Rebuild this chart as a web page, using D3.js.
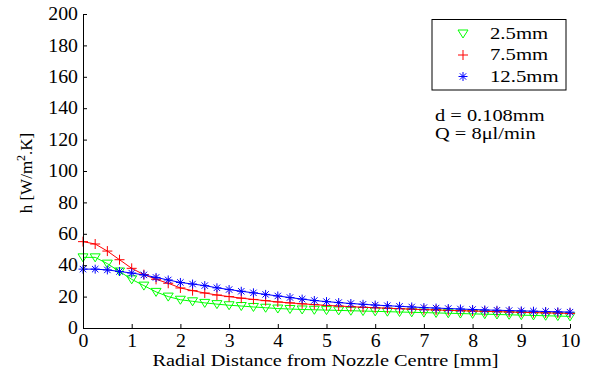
<!DOCTYPE html>
<html>
<head>
<meta charset="utf-8">
<script src="https://cdn.jsdelivr.net/npm/d3@7"></script>
<style>
  body { margin: 0; background: #fff; }
</style>
</head>
<body>
<div id="chart"></div>
<script>
// Canvas
const width = 591;
const height = 376;
const margin = { top: 14, right: 21, bottom: 48, left: 83 };
const innerW = width - margin.left - margin.right;
const innerH = height - margin.top - margin.bottom;
const serif = "Liberation Serif";

// Data: radial positions (mm) and h values for each nozzle height
const radial = d3.range(0, 41).map(i => i * 0.25);
const h25 = [45, 45, 41, 36, 31, 27, 23, 20, 18, 17, 16, 15.2, 14.5, 14, 13.4, 12.9, 12.4, 12.1, 11.8, 11.6,
             11.4, 11.2, 11, 10.8, 10.6, 10.4, 10.2, 10, 9.8, 9.6, 9.4, 9.2, 9, 8.8, 8.6, 8.4, 8.2, 8, 7.8, 7.6, 7.4];
const h75 = [55, 53.5, 49, 43.5, 38, 34, 31, 28.5, 25.5, 23.8, 22.3, 21, 20, 19, 18.2, 17.4, 16.6, 16, 15.4, 14.9,
             14.4, 14, 13.6, 13.2, 12.9, 12.6, 12.3, 12, 11.7, 11.5, 11.2, 11, 10.8, 10.6, 10.4, 10.2, 10, 9.8, 9.6, 9.5, 9.3];
const h125 = [37.5, 37.5, 37, 36, 35, 33.8, 32.2, 30.6, 29, 28, 27, 25.6, 24.5, 23.4, 22.4, 21.4, 20.4, 19.4, 18.4, 17.5,
              16.8, 16.2, 15.6, 15.1, 14.6, 14.2, 13.8, 13.4, 13, 12.7, 12.4, 12.1, 11.8, 11.5, 11.3, 11.1, 10.9, 10.7, 10.5, 10.3, 10.1];
const seriesNames = ["2.5mm", "7.5mm", "12.5mm"];
const xTicks = d3.range(0, 11);
const yTicks = d3.range(0, 201, 20);

const series = [
  { name: seriesNames[0], values: h25, color: "#00ff00", marker: "tri" },
  { name: seriesNames[1], values: h75, color: "#ff0000", marker: "plus" },
  { name: seriesNames[2], values: h125, color: "#0000ff", marker: "star" }
];

const svg = d3.select("#chart")
  .append("svg")
  .attr("width", width)
  .attr("height", height);

const g = svg.append("g").attr("transform", `translate(${margin.left},${margin.top})`);

const x = d3.scaleLinear().domain([0, 10]).range([0, innerW]);
const y = d3.scaleLinear().domain([0, 200]).range([innerH, 0]);

// The original figure is a little wider than tall fonts, so widen text a bit
function stretch(sel, k) {
  sel.each(function () {
    const w = this.getComputedTextLength();
    d3.select(this).attr("textLength", w * k).attr("lengthAdjust", "spacingAndGlyphs");
  });
}

// Marker path generators
function markerPath(type) {
  if (type === "tri") return "M-5,-3.5L5,-3.5L0,4.5Z";
  if (type === "plus") return "M-5,0L5,0M0,-5L0,5";
  return "M-4.5,0L4.5,0M0,-4.5L0,4.5M-3.2,-3.2L3.2,3.2M-3.2,3.2L3.2,-3.2";
}

const line = d3.line().x((d, i) => x(radial[i])).y(d => y(d));

series.forEach(s => {
  g.append("path")
    .datum(s.values)
    .attr("fill", "none")
    .attr("stroke", s.color)
    .attr("stroke-width", 1)
    .attr("d", line);

  g.selectAll(null)
    .data(s.values)
    .enter()
    .append("path")
    .attr("transform", (d, i) => `translate(${x(radial[i])},${y(d)})`)
    .attr("d", markerPath(s.marker))
    .attr("fill", "none")
    .attr("stroke", s.color)
    .attr("stroke-width", 1);
});

// Axes (ticks point inward)
const xAxis = g.append("g")
  .attr("transform", `translate(0,${innerH})`)
  .call(d3.axisBottom(x).tickValues(xTicks).tickSizeInner(-4).tickSizeOuter(0).tickPadding(4));
const yAxis = g.append("g")
  .call(d3.axisLeft(y).tickValues(yTicks).tickSizeInner(-4).tickSizeOuter(0).tickPadding(5));

[xAxis, yAxis].forEach(a => {
  a.select(".domain").attr("stroke", "#000");
  a.selectAll(".tick line").attr("stroke", "#000");
  a.selectAll(".tick text")
    .attr("fill", "#000")
    .style("font-family", serif)
    .style("font-size", "18px")
    .call(stretch, 1.1);
});
xAxis.selectAll(".tick text").attr("dy", "0.85em");

// Axis titles
g.append("text")
  .attr("x", innerW / 2 - 1)
  .attr("y", innerH + 38)
  .attr("text-anchor", "middle")
  .style("font-family", serif)
  .style("font-size", "17px")
  .attr("textLength", 346)
  .attr("lengthAdjust", "spacingAndGlyphs")
  .text("Radial Distance from Nozzle Centre [mm]");

const yLab = g.append("text")
  .attr("transform", `translate(-51,${173 - margin.top}) rotate(-90)`)
  .attr("text-anchor", "middle")
  .style("font-family", serif)
  .style("font-size", "17px");
yLab.append("tspan").text("h [W/m");
yLab.append("tspan").attr("dy", -7).style("font-size", "12px").text("2");
yLab.append("tspan").attr("dy", 7).text(".K]");

// Legend
const legend = svg.append("g").attr("transform", "translate(432,19.5)");
legend.append("rect")
  .attr("width", 134)
  .attr("height", 70.5)
  .attr("fill", "#fff")
  .attr("stroke", "#000");
series.forEach((s, i) => {
  const ly = 14 + i * 21.5;
  legend.append("path")
    .attr("transform", `translate(31,${ly})`)
    .attr("d", markerPath(s.marker))
    .attr("fill", "none")
    .attr("stroke", s.color);
  legend.append("text")
    .attr("x", 58)
    .attr("y", ly + 5)
    .style("font-family", serif)
    .style("font-size", "17px")
    .text(s.name)
    .call(stretch, 1.22);
});

// Annotations
svg.append("text").attr("x", 435).attr("y", 121)
  .style("font-family", serif).style("font-size", "17px").text("d  = 0.108mm")
  .call(stretch, 1.2);
svg.append("text").attr("x", 435).attr("y", 139)
  .style("font-family", serif).style("font-size", "17px").text("Q = 8\u03bcl/min")
  .call(stretch, 1.2);
</script>
</body>
</html>
